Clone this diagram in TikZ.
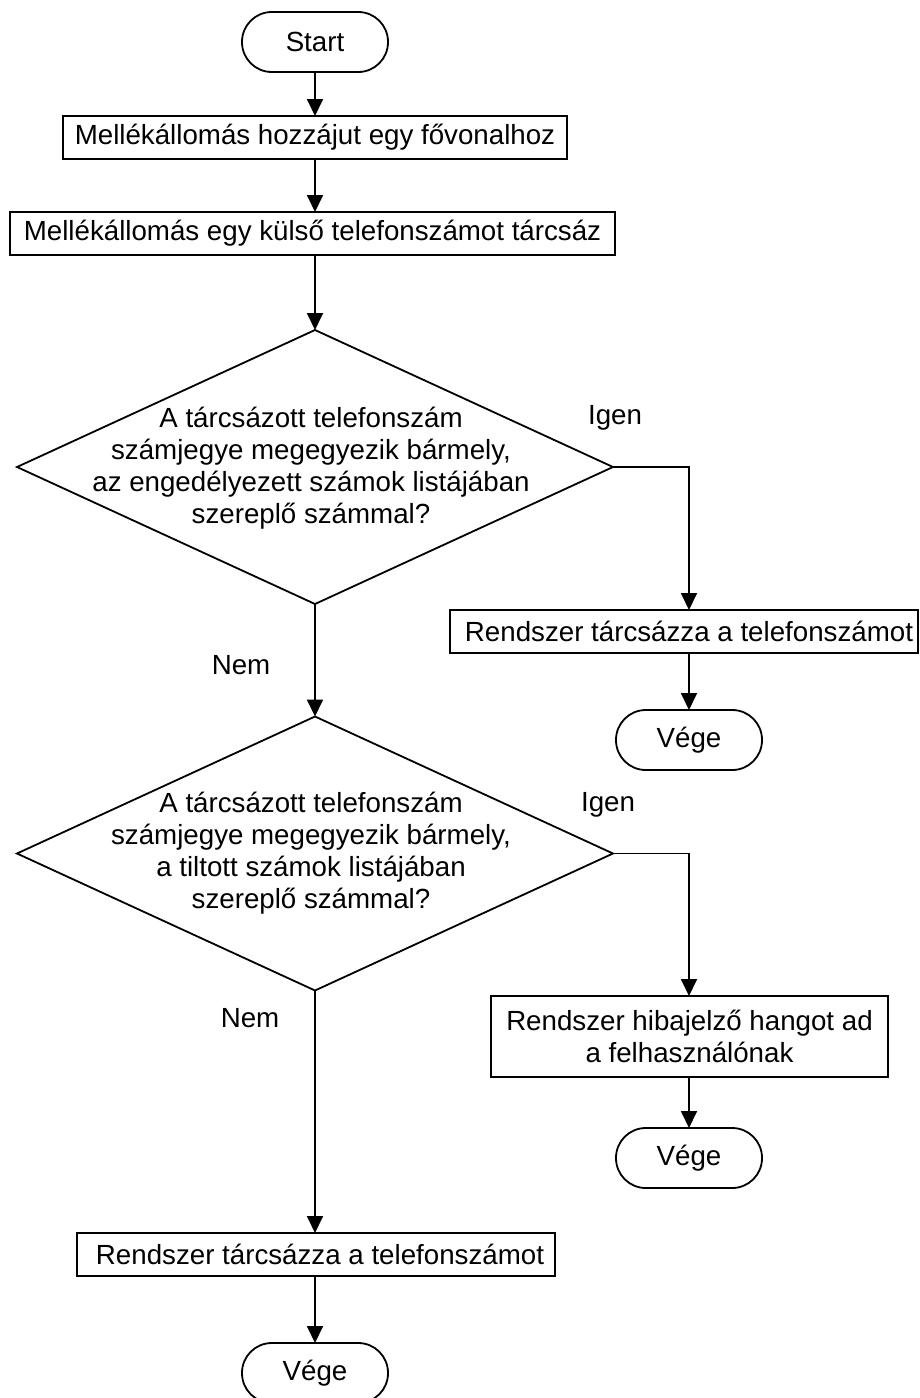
\documentclass[tikz,border=0pt]{standalone}
\usepackage{fontspec}
\setmainfont{Liberation Sans}
\usetikzlibrary{shapes.geometric,arrows.meta}
\tikzset{
  base/.style={draw=black, line width=0.9pt, inner sep=0pt, outer sep=0pt, font=\fontsize{13.85pt}{16pt}\selectfont, align=center},
  term/.style={base, rectangle, rounded corners=14.9pt, minimum width=73pt, minimum height=30pt},
  procbox/.style={base, rectangle, minimum height=21.5pt},
  decis/.style={base, diamond, minimum width=298pt, minimum height=137pt},
  dtext/.style={font=\fontsize{13.85pt}{16pt}\selectfont, align=center, inner sep=0pt},
  lbl/.style={font=\fontsize{13.85pt}{16pt}\selectfont, inner sep=0pt},
  arr/.style={line width=0.9pt, -{Triangle[length=8.5pt,width=8pt]}}
}
\begin{document}
\begin{tikzpicture}[x=0.5pt,y=-0.5pt]
\useasboundingbox[fill=white] (0,0) rectangle (920,1398);
\node[term] (start) at (315,42) {Start};
\node[procbox, minimum width=252pt] (b1) at (315,137.5) {Mellékállomás hozzájut egy fővonalhoz};
\node[procbox, minimum width=302.5pt] (b2) at (312.5,233.5) {Mellékállomás egy külső telefonszámot tárcsáz};
\node[decis] (d1) at (315,467) {};
\node[dtext] (d1t) at (311,468) {A tárcsázott telefonszám\\számjegye megegyezik bármely,\\az engedélyezett számok listájában\\szereplő számmal?};
\node[procbox, minimum width=234pt] (b3) at (684,631.5) {\hspace*{5pt}Rendszer tárcsázza a telefonszámot};
\node[term] (v1) at (689,740) {Vége};
\node[decis] (d2) at (315,853.5) {};
\node[dtext] (d2t) at (311,853) {A tárcsázott telefonszám\\számjegye megegyezik bármely,\\a tiltott számok listájában\\szereplő számmal?};
\node[procbox, minimum width=198.5pt, minimum height=40.5pt] (b4) at (689.5,1036.5) {Rendszer hibajelző hangot ad\\a felhasználónak};
\node[term] (v2) at (689,1158) {Vége};
\node[procbox, minimum width=239pt] (b5) at (316,1254.5) {\hspace*{4pt}Rendszer tárcsázza a telefonszámot};
\node[term] (v3) at (315,1373) {Vége};
\node[lbl] (igen1) at (615,418) {Igen};
\node[lbl] (igen2) at (608,805) {Igen};
\node[lbl] (nem1) at (241,665) {Nem};
\node[lbl] (nem2) at (250,1018) {Nem};
\draw[arr] (start) -- (b1);
\draw[arr] (b1.south) -- (b1.south |- b2.north);
\draw[arr] (b2.south -| d1.north) -- (d1.north);
\draw[arr] (d1.east) -| (v1 |- b3.north);
\draw[arr] (v1 |- b3.south) -- (v1);
\draw[arr] (d1.south) -- (d2.north);
\draw[arr] (d2.east) -| (v2 |- b4.north);
\draw[arr] (b4.south -| v2) -- (v2);
\draw[arr] (d2.south) -- (d2.south |- b5.north);
\draw[arr] (b5.south -| v3) -- (v3);
\end{tikzpicture}
\end{document}
